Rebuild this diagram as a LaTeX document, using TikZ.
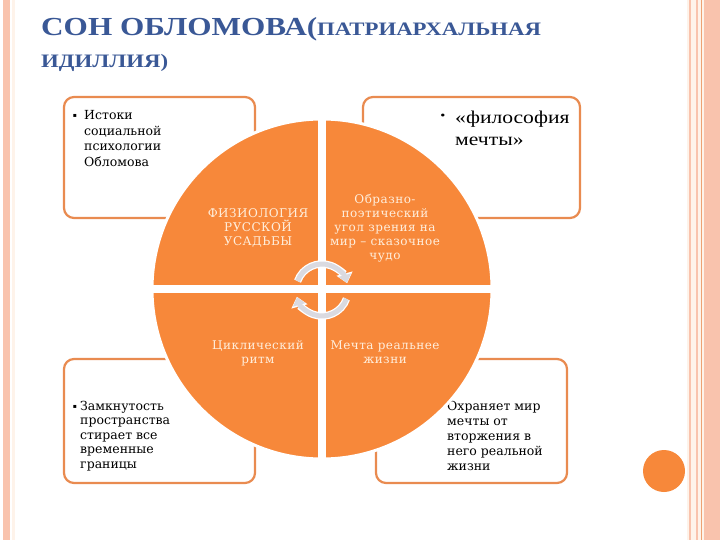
\documentclass[tikz,border=0pt]{standalone}
\usepackage{fontspec}
\setmainfont{Liberation Serif}[FakeStretch=1.2]
\newfontfamily\slabfont{DejaVu Serif}
\newfontfamily\quadfont{DejaVu Serif}[LetterSpace=4]
\usetikzlibrary{arrows.meta}

\definecolor{dreamorange}{RGB}{247,136,58}
\definecolor{frameorange}{RGB}{233,139,80}
\definecolor{titleblue}{RGB}{58,88,150}
\definecolor{stripesalmon}{RGB}{249,195,173}
\definecolor{stripecream}{RGB}{254,243,234}
\definecolor{cyclegrey}{RGB}{218,218,224}
\definecolor{quadcream}{RGB}{255,238,220}

\tikzset{
  infobox/.style={draw=frameorange, line width=2.2pt, rounded corners=10pt, fill=white},
  boxtext/.style={anchor=north west, align=left, inner sep=0pt},
  bulletmark/.style={inner sep=0pt, font=\slabfont\fontsize{6}{6}\selectfont},
  quadlabel/.style={align=center, inner sep=0pt, text=quadcream,
    font=\quadfont\fontsize{12}{14}\selectfont},
  cyclehalo/.style={line width=7.5pt, white, -{Triangle[width=16pt,length=10pt]}},
  cyclearrow/.style={line width=5pt, cyclegrey, -{Triangle[width=12.5pt,length=8pt]}}
}

\begin{document}
\begin{tikzpicture}[x=1pt,y=-1pt]
    \useasboundingbox (0,0) rectangle (720,540);
    \fill[white] (0,0) rectangle (720,540);

    % Page stripes left and right
    \fill[stripesalmon] (3,0) rectangle (10,540);
    \fill[stripecream] (12,0) rectangle (15,540);
    \fill[stripecream] (687,0) rectangle (704,540);
    \fill[stripesalmon] (688.5,0) rectangle (690.5,540);
    \fill[stripesalmon] (696,0) rectangle (698,540);
    \fill[frameorange!80] (700.5,0) rectangle (702,540);
    \fill[stripesalmon] (704,0) rectangle (720,540);

    % Title
    \node[anchor=base west, inner sep=0pt, text=titleblue, font=\bfseries] (title) at (41,36)
        {{\fontsize{26}{26}\selectfont СОН ОБЛОМОВА(}{\fontsize{19}{19}\selectfont ПАТРИАРХАЛЬНАЯ}};
    \node[anchor=base west, inner sep=0pt, text=titleblue, font=\bfseries] (titletail) at (41,68)
        {\fontsize{19}{19}\selectfont ИДИЛЛИЯ)};

    % Four boxes with their texts
    \draw[infobox] (64,97) rectangle (255,218);
    \draw[infobox] (363,97) rectangle (580,218);
    \draw[infobox] (64,359) rectangle (255,483);
    \draw[infobox] (376,359) rectangle (567,483);

    \node[bulletmark] (dotsources) at (75,116) {▪};
    \node[boxtext, font=\slabfont\fontsize{12.5}{15.7}\selectfont] (sources) at (84,110)
        {Истоки\\социальной\\психологии\\Обломова};
    \node[inner sep=0pt, font=\fontsize{12}{12}\selectfont] (dotdream) at (443,117) {•};
    \node[boxtext, font=\fontsize{18}{22}\selectfont] (philosophy) at (455,111)
        {«философия\\мечты»};
    \node[bulletmark] (dotclosed) at (75,407) {▪};
    \node[boxtext, font=\slabfont\fontsize{12.5}{14.5}\selectfont] (closed) at (80,401)
        {Замкнутость\\пространства\\стирает все\\временные\\границы};
    \node[boxtext, font=\slabfont\fontsize{12.5}{15}\selectfont] (guards) at (447,401)
        {Охраняет мир\\мечты от\\вторжения в\\него реальной\\жизни};

    % The big circle in four quarters
    \fill[dreamorange, draw=white, line width=3pt] (322,289) circle[radius=170];
    \fill[white] (318,115) rectangle (326,465);
    \fill[white] (148,285) rectangle (496,293);

    \node[quadlabel] (estate) at (258,228) {ФИЗИОЛОГИЯ\\РУССКОЙ\\УСАДЬБЫ};
    \node[quadlabel] (fairy) at (385,228)
        {Образно-\\поэтический\\угол зрения на\\мир – сказочное\\чудо};
    \node[quadlabel] (rhythm) at (258,353) {Циклический\\ритм};
    \node[quadlabel] (realer) at (385,352) {Мечта реальнее\\жизни};

    % Cycle arrows in the middle
    \coordinate (hub) at (322,290);
    \draw[cyclehalo] (hub) ++(200:26) arc[start angle=200, end angle=345, radius=26];
    \draw[cyclearrow] (hub) ++(200:26) arc[start angle=200, end angle=344, radius=26];
    \draw[cyclehalo] (hub) ++(20:26) arc[start angle=20, end angle=165, radius=26];
    \draw[cyclearrow] (hub) ++(20:26) arc[start angle=20, end angle=164, radius=26];

    % Small dot at the bottom right
    \fill[dreamorange] (664,471) circle[radius=21];
\end{tikzpicture}
\end{document}
